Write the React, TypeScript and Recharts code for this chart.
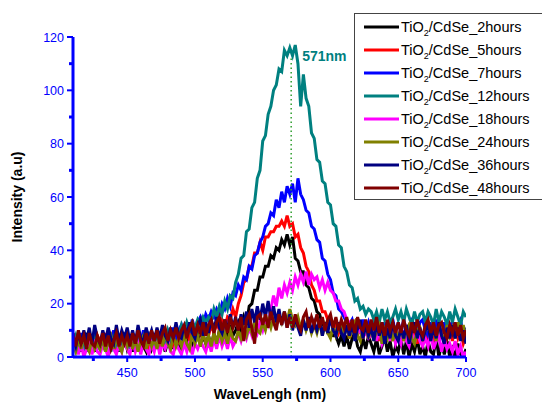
import { LineChart, Line, XAxis, YAxis, ReferenceLine, Legend } from 'recharts';

// wavelength grid (nm), 2 nm sampling
const wavelength = Array.from({ length: 146 }, (_, i) => 410 + i * 2);

const hours2 = [
  7, 3, 8, 2, 6, 9, 3, 7, 2, 6,
  3, 7, 2, 8, 4, 3, 7, 2, 6, 8,
  3, 6, 2, 7, 3, 8, 4, 2, 7, 3,
  6, 8, 3, 7, 2, 6, 8, 3, 7, 4,
  3, 7, 4, 8, 3, 7, 9, 4, 8, 5,
  8, 4, 9, 5, 10, 6, 11, 7, 12, 8,
  10, 13, 10, 15, 12, 19, 20, 25, 25, 30,
  30, 34, 34, 38, 37, 41, 40, 44, 42, 46,
  42, 45, 37, 36, 32, 32, 27, 26, 22, 21,
  17, 16, 12, 12, 9, 9, 8, 8, 5, 8,
  4, 8, 3, 7, 9, 4, 2, 7, 3, 8,
  5, 2, 7, 1, 4, 8, 2, 6, 0, 4,
  2, 7, 1, 6, 0, 5, 2, 7, 1, 4,
  0, 6, 2, 1, 7, 0, 5, 1, 6, 0,
  3, 0, 5, 1, 0, 3,
];

const hours5 = [
  9, 5, 9, 4, 8, 3, 9, 5, 4, 8,
  6, 3, 9, 4, 8, 5, 3, 8, 4, 9,
  4, 8, 3, 7, 9, 4, 8, 5, 3, 8,
  5, 9, 4, 8, 5, 10, 6, 4, 9, 6,
  9, 5, 10, 6, 11, 7, 10, 12, 7, 11,
  8, 12, 9, 13, 10, 14, 11, 15, 14, 18,
  15, 20, 23, 28, 29, 34, 34, 39, 39, 43,
  40, 45, 45, 47, 47, 49, 49, 51, 49, 53,
  49, 50, 45, 46, 41, 39, 34, 32, 27, 25,
  21, 21, 17, 17, 14, 14, 11, 12, 9, 12,
  8, 12, 7, 11, 13, 8, 12, 7, 11, 8,
  12, 7, 11, 6, 10, 12, 7, 11, 6, 10,
  7, 11, 6, 10, 12, 7, 11, 5, 10, 7,
  11, 6, 10, 7, 12, 6, 10, 11, 7, 10,
  6, 11, 7, 10, 5, 8,
];

const hours7 = [
  4, 8, 4, 9, 5, 2, 8, 4, 9, 5,
  4, 9, 3, 8, 5, 10, 4, 8, 3, 9,
  5, 4, 9, 3, 8, 5, 10, 4, 8, 5,
  9, 4, 8, 10, 5, 9, 6, 11, 7, 10,
  12, 8, 13, 9, 14, 10, 13, 15, 12, 16,
  14, 17, 15, 18, 16, 20, 18, 22, 19, 24,
  23, 27, 25, 30, 29, 34, 33, 38, 39, 43,
  45, 49, 50, 54, 53, 59, 56, 62, 58, 64,
  61, 65, 58, 67, 61, 59, 55, 54, 49, 48,
  44, 43, 37, 36, 31, 29, 24, 23, 18, 17,
  15, 13, 12, 14, 10, 13, 9, 14, 10, 13,
  9, 13, 10, 14, 8, 13, 9, 12, 14, 9,
  13, 9, 14, 10, 8, 13, 10, 9, 13, 14,
  10, 8, 13, 9, 14, 10, 8, 13, 9, 12,
  13, 9, 12, 14, 8, 11,
];

const hours12 = [
  5, 8, 3, 7, 2, 6, 8, 3, 7, 4,
  3, 7, 5, 8, 2, 7, 4, 3, 8, 5,
  7, 3, 8, 4, 7, 2, 8, 4, 7, 9,
  5, 8, 6, 9, 5, 10, 7, 9, 11, 8,
  12, 9, 13, 10, 13, 11, 14, 12, 15, 13,
  15, 13, 18, 15, 19, 16, 21, 18, 23, 22,
  28, 31, 37, 38, 47, 48, 56, 58, 67, 70,
  81, 83, 91, 94, 100, 102, 108, 107, 115, 113,
  116, 113, 117, 110, 94, 106, 97, 94, 84, 82,
  74, 73, 66, 65, 58, 57, 50, 49, 42, 41,
  34, 32, 27, 26, 21, 22, 18, 19, 16, 18,
  17, 14, 17, 13, 18, 14, 17, 13, 15, 18,
  14, 17, 13, 18, 15, 12, 17, 13, 16, 17,
  13, 17, 15, 12, 18, 13, 17, 15, 12, 17,
  13, 18, 15, 12, 17, 15,
];

const hours18 = [
  3, 6, 1, 5, 0, 3, 6, 1, 5, 2,
  1, 5, 3, 0, 6, 3, 1, 5, 2, 6,
  3, 1, 6, 2, 5, 1, 6, 3, 1, 5,
  2, 6, 1, 5, 3, 6, 2, 1, 5, 3,
  1, 5, 2, 6, 1, 5, 3, 6, 4, 2,
  6, 2, 7, 3, 8, 4, 7, 3, 8, 4,
  6, 9, 6, 10, 7, 11, 8, 12, 9, 13,
  10, 14, 12, 18, 23, 19, 26, 22, 27, 24,
  28, 25, 30, 27, 31, 28, 32, 27, 31, 29,
  30, 26, 29, 25, 28, 25, 24, 21, 21, 18,
  17, 14, 13, 11, 11, 9, 10, 8, 9, 7,
  8, 11, 6, 10, 5, 8, 11, 6, 10, 5,
  8, 5, 10, 6, 4, 9, 5, 10, 6, 4,
  7, 4, 9, 3, 6, 8, 2, 7, 3, 5,
  2, 6, 1, 4, 0, 2,
];

const hours24 = [
  5, 2, 7, 3, 8, 4, 2, 7, 3, 5,
  3, 7, 2, 6, 8, 3, 7, 4, 2, 7,
  4, 8, 3, 7, 2, 6, 8, 3, 7, 4,
  7, 3, 8, 4, 9, 5, 3, 8, 4, 7,
  4, 8, 5, 3, 9, 5, 8, 4, 9, 5,
  8, 4, 9, 5, 10, 6, 9, 5, 10, 7,
  6, 10, 7, 11, 8, 12, 9, 13, 10, 9,
  13, 10, 14, 11, 15, 12, 16, 13, 17, 13,
  18, 14, 12, 15, 11, 14, 10, 13, 9, 12,
  9, 13, 8, 12, 9, 7, 12, 8, 11, 13,
  8, 12, 7, 11, 13, 8, 6, 11, 12, 7,
  11, 6, 10, 12, 5, 10, 7, 11, 6, 10,
  7, 11, 6, 10, 12, 7, 5, 10, 11, 6,
  10, 12, 7, 11, 6, 13, 8, 7, 12, 8,
  11, 7, 13, 8, 12, 7,
];

const hours36 = [
  7, 4, 9, 5, 10, 6, 11, 5, 12, 7,
  5, 10, 6, 11, 7, 5, 12, 6, 10, 7,
  11, 6, 10, 5, 12, 7, 6, 11, 7, 10,
  6, 11, 7, 12, 8, 6, 11, 7, 13, 8,
  7, 12, 8, 13, 9, 7, 12, 14, 8, 13,
  9, 14, 10, 15, 11, 9, 14, 10, 16, 11,
  15, 10, 16, 12, 17, 11, 18, 13, 19, 14,
  20, 15, 21, 14, 19, 13, 18, 12, 17, 11,
  16, 10, 15, 11, 8, 14, 10, 15, 9, 13,
  10, 14, 8, 13, 9, 15, 10, 8, 13, 9,
  7, 12, 8, 13, 6, 11, 14, 7, 12, 8,
  11, 6, 13, 8, 12, 5, 11, 7, 13, 8,
  6, 11, 7, 12, 5, 10, 13, 7, 11, 6,
  10, 12, 6, 11, 7, 13, 8, 5, 11, 7,
  12, 7, 11, 6, 10, 5,
];

const hours48 = [
  9, 4, 10, 5, 8, 3, 9, 5, 4, 8,
  5, 9, 4, 8, 3, 6, 9, 4, 8, 5,
  8, 4, 9, 5, 10, 6, 4, 9, 5, 10,
  6, 10, 5, 9, 11, 6, 10, 7, 11, 7,
  10, 12, 7, 11, 13, 8, 12, 9, 13, 8,
  12, 14, 9, 13, 15, 10, 14, 9, 15, 11,
  14, 10, 15, 6, 14, 16, 11, 5, 15, 16,
  12, 16, 11, 17, 13, 10, 16, 12, 17, 11,
  15, 11, 16, 12, 10, 15, 17, 11, 15, 12,
  16, 11, 15, 10, 14, 16, 11, 15, 10, 14,
  11, 15, 10, 14, 9, 15, 11, 10, 14, 9,
  14, 10, 15, 9, 13, 8, 14, 10, 13, 9,
  13, 9, 14, 10, 8, 13, 9, 14, 10, 8,
  12, 14, 9, 13, 8, 12, 13, 9, 7, 12,
  9, 13, 8, 12, 7, 10,
];

const series = [
  { key: 'h2', label: '2hours', color: '#000000', values: hours2 },
  { key: 'h5', label: '5hours', color: '#ff0000', values: hours5 },
  { key: 'h7', label: '7hours', color: '#0000ff', values: hours7 },
  { key: 'h12', label: '12hours', color: '#008080', values: hours12 },
  { key: 'h18', label: '18hours', color: '#ff00ff', values: hours18 },
  { key: 'h24', label: '24hours', color: '#808000', values: hours24 },
  { key: 'h36', label: '36hours', color: '#000080', values: hours36 },
  { key: 'h48', label: '48hours', color: '#800000', values: hours48 },
];

const xTicks = [425, 450, 475, 500, 525, 550, 575, 600, 625, 650, 675, 700];
const yTicks = [0, 10, 20, 30, 40, 50, 60, 70, 80, 90, 100, 110, 120];
const peakWavelength = 571;

const data = wavelength.map((wl, i) => {
  const row: Record<string, number> = { wl };
  series.forEach((s) => {
    row[s.key] = s.values[i];
  });
  return row;
});

const BLUE = '#0000ff';
const FONT = '"Liberation Sans", Arial, sans-serif';

const BottomTick = ({ x, y, payload }: any) => {
  const major = payload.value % 50 === 0;
  return (
    <g>
      <line x1={x} x2={x} y1={y} y2={y + (major ? 5 : 4)} stroke={BLUE} strokeWidth={major ? 2 : 3} />
      {major && (
        <text x={x} y={y + 20} textAnchor="middle" fill={BLUE} fontSize={12.5} fontFamily={FONT}>
          {payload.value}
        </text>
      )}
    </g>
  );
};

const LeftTick = ({ x, y, payload }: any) => {
  const major = payload.value % 20 === 0;
  return (
    <g>
      <line x1={x - (major ? 6 : 4)} x2={x} y1={y} y2={y} stroke={BLUE} strokeWidth={major ? 2 : 3} />
      {major && (
        <text x={x - 9} y={y + 4.5} textAnchor="end" fill={BLUE} fontSize={12.5} fontFamily={FONT}>
          {payload.value}
        </text>
      )}
    </g>
  );
};

const RightTick = ({ x, y }: any) => (
  <line x1={x - 4} x2={x} y1={y} y2={y} stroke={BLUE} strokeWidth={2} />
);

const TopTick = ({ x, y }: any) => (
  <line x1={x} x2={x} y1={y} y2={y + 4} stroke={BLUE} strokeWidth={2} />
);

const LegendBox = () => (
  <svg width={188} height={187} style={{ display: 'block' }}>
    <rect x={0.5} y={0.5} width={200} height={186} fill="#ffffff" stroke="#444444" strokeWidth={1} />
    {series.map((s, i) => {
      const cy = 14 + i * 23;
      return (
        <g key={s.key}>
          <line x1={10} x2={45} y1={cy} y2={cy} stroke={s.color} strokeWidth={3} />
          <text x={47} y={cy + 5} fontSize={14.5} fontFamily={FONT} fill="#000000">
            TiO
            <tspan dy={4} fontSize={9}>2</tspan>
            <tspan dy={-4}>/CdSe_{s.label}</tspan>
          </text>
        </g>
      );
    })}
  </svg>
);

const PeakLabel = (props: any) => {
  const vb = props.viewBox || {};
  return (
    <text x={vb.x + 11} y={vb.y + 5} fill="#008080" fontSize={14} fontWeight="bold" fontFamily={FONT}>
      {peakWavelength}nm
    </text>
  );
};

export default function App() {
  return (
    <div style={{ position: 'absolute', left: 0, top: 0, width: 542, height: 403, overflow: 'hidden', background: '#fff' }}>
      <LineChart width={542} height={403} data={data} margin={{ top: 37, right: 76, left: 33, bottom: 16 }}>
        <XAxis
          dataKey="wl"
          type="number"
          domain={[410, 700]}
          ticks={xTicks}
          interval={0}
          tickSize={0}
          tickMargin={0}
          height={30}
          axisLine={{ stroke: BLUE, strokeWidth: 3 }}
          tickLine={false}
          tick={<BottomTick />}
          allowDataOverflow
        />
        <XAxis
          xAxisId="top"
          orientation="top"
          dataKey="wl"
          type="number"
          domain={[410, 700]}
          ticks={xTicks}
          interval={0}
          tickSize={0}
          tickMargin={0}
          height={0}
          axisLine={{ stroke: BLUE, strokeWidth: 3 }}
          tickLine={false}
          tick={<TopTick />}
        />
        <YAxis
          type="number"
          domain={[0, 120]}
          ticks={yTicks}
          interval={0}
          tickSize={0}
          tickMargin={0}
          width={40}
          axisLine={{ stroke: BLUE, strokeWidth: 3 }}
          tickLine={false}
          tick={<LeftTick />}
          allowDataOverflow
        />
        <YAxis
          yAxisId="right"
          orientation="right"
          type="number"
          domain={[0, 120]}
          ticks={yTicks}
          interval={0}
          tickSize={0}
          tickMargin={0}
          width={0}
          axisLine={{ stroke: BLUE, strokeWidth: 3 }}
          tickLine={false}
          tick={<RightTick />}
        />
        {series.map((s) => (
          <Line
            key={s.key}
            type="linear"
            dataKey={s.key}
            stroke={s.color}
            strokeWidth={3}
            dot={false}
            isAnimationActive={false}
          />
        ))}
        <ReferenceLine
          segment={[{ x: peakWavelength, y: 0 }, { x: peakWavelength, y: 113 }]}
          stroke="#2e9e2e"
          strokeWidth={1.5}
          strokeDasharray="1.5 3"
          label={PeakLabel}
        />
        <Legend
          layout="vertical"
          align="center"
          verticalAlign="middle"
          content={() => <LegendBox />}
          wrapperStyle={{ position: 'absolute', left: 354, top: 13, width: 188, height: 187 }}
        />
        <text x={270} y={399} textAnchor="middle" fontSize={14} fontWeight="bold" fontFamily={FONT} fill="#000">
          WaveLengh (nm)
        </text>
        <text
          x={22}
          y={197}
          textAnchor="middle"
          fontSize={14}
          fontWeight="bold"
          fontFamily={FONT}
          fill="#000"
          transform="rotate(-90 22 197)"
        >
          Intensity (a.u)
        </text>
      </LineChart>
    </div>
  );
}
